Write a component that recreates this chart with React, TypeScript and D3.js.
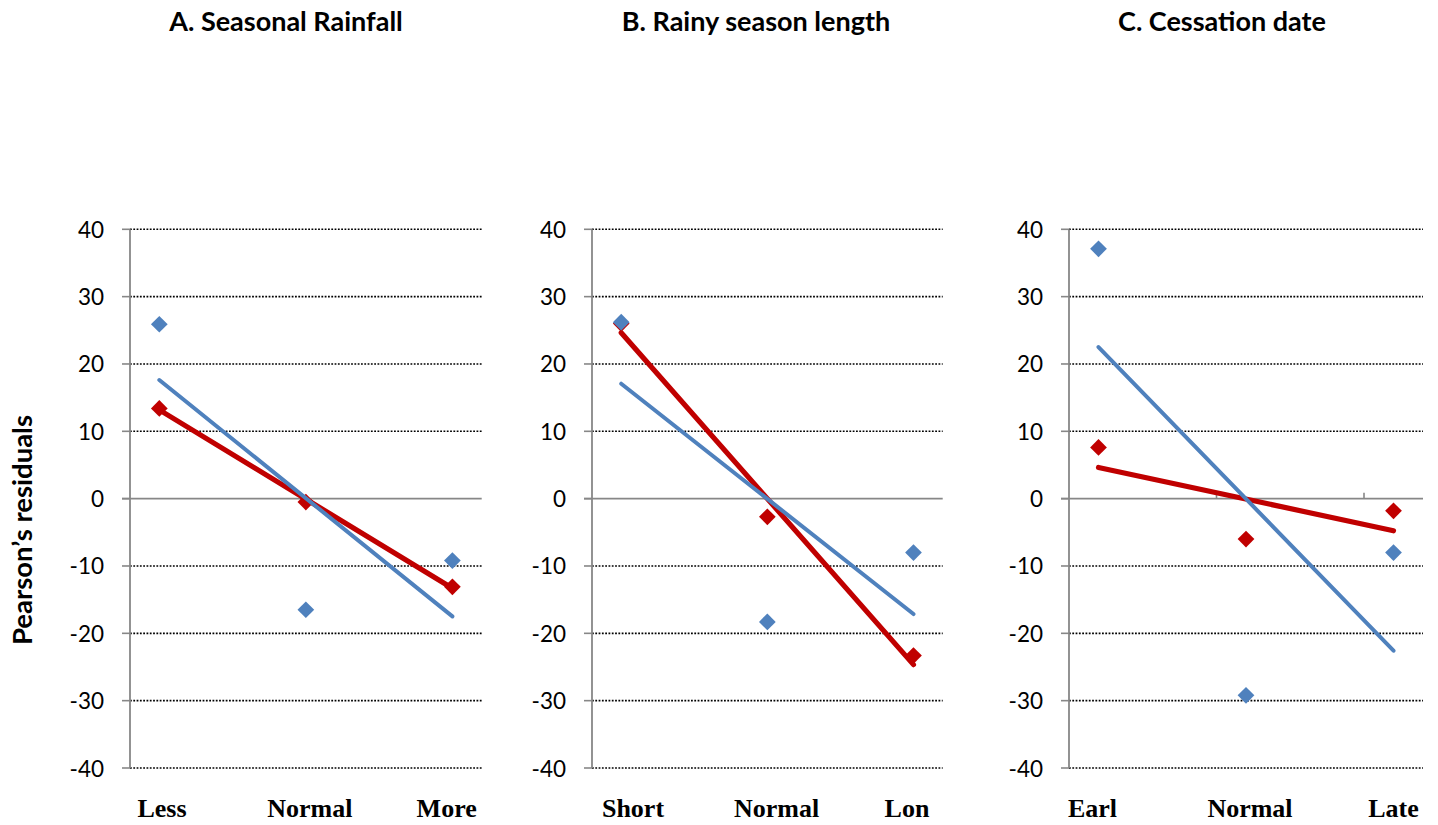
import React from "react";
import * as d3 from "d3";

// ---------- DATA ----------
const panelTitles = ["A. Seasonal Rainfall", "B. Rainy season length", "C. Cessation date"];
const categoriesA = ["Less", "Normal", "More"];
const categoriesB = ["Short", "Normal", "Lon"];
const categoriesC = ["Earl", "Normal", "Late"];
const categoryX = [1, 2, 3];
const blueA = [25.9, -16.5, -9.2];
const redA = [13.4, -0.5, -13.1];
const blueB = [26.2, -18.3, -8.0];
const redB = [26.0, -2.7, -23.3];
const blueC = [37.1, -29.2, -8.0];
const redC = [7.6, -6.0, -1.8];
const yTicks = [40, 30, 20, 10, 0, -10, -20, -30, -40];
const yTickLabels = ["40", "30", "20", "10", "0", "-10", "-20", "-30", "-40"];
const xTicksC = [1.8, 2.8];
const yAxisTitle = "Pearson\u2019s residuals";

// ---------- LAYOUT ----------
const W = 1438;
const H = 825;
const plotLeft = [130, 592, 1069];
const plotRight = [481.7, 942.7, 1423];
const titleCenter = [286, 756, 1222];
const labelDx = [
  [2.7, 4, -5.7],
  [11.8, 9.3, -6.5],
  [-6, 4, 0],
];
const BLUE = "#4F81BD";
const RED = "#C00000";
const AXIS = "#878787";
const SANS = "Lato, 'Open Sans', sans-serif";
const SERIF = "'Liberation Serif', 'Times New Roman', serif";

const yScale = d3.scaleLinear().domain([-40, 40]).range([768, 229.3]);

function fit(xs: number[], ys: number[]) {
  const mx = d3.mean(xs) as number;
  const my = d3.mean(ys) as number;
  let num = 0, den = 0;
  xs.forEach((x, i) => { num += (x - mx) * (ys[i] - my); den += (x - mx) ** 2; });
  const b = num / den;
  const a = my - b * mx;
  return (x: number) => a + b * x;
}

const diamond = d3.symbol().type(d3.symbolSquare).size(140)() as string;

function Panel({ idx, cats, blue, red }: { idx: number; cats: string[]; blue: number[]; red: number[] }) {
  const x0 = plotLeft[idx];
  const x1 = plotRight[idx];
  const xScale = d3.scaleLinear().domain([0.8, 3.2]).range([x0, x1]);
  const line = d3.line<[number, number]>().x((d) => xScale(d[0])).y((d) => yScale(d[1]));
  const fb = fit(categoryX, blue);
  const fr = fit(categoryX, red);
  const ends = [categoryX[0], categoryX[categoryX.length - 1]];
  const blueLine = line(ends.map((x) => [x, fb(x)] as [number, number])) as string;
  const redLine = line(ends.map((x) => [x, fr(x)] as [number, number])) as string;
  const y0 = yScale(0);
  return (
    <g>
      <text x={titleCenter[idx]} y={31} textAnchor="middle" fontFamily={SANS} fontWeight="bold" fontSize={27} fill="#000">
        {panelTitles[idx]}
      </text>
      {yTicks.map((t, i) => (
        <g key={t}>
          {t !== 0 && (
            <line x1={x0} x2={x1} y1={yScale(t)} y2={yScale(t)} stroke="#000" strokeWidth={1.6} strokeDasharray="1.8,1.5" />
          )}
          <line x1={x0 - 8} x2={x0} y1={yScale(t)} y2={yScale(t)} stroke={AXIS} strokeWidth={1.6} />
          <text x={x0 - 26} y={yScale(t)} textAnchor="end" dominantBaseline="central" fontFamily={SANS} fontSize={22.5} fill="#000">
            {yTickLabels[i]}
          </text>
        </g>
      ))}
      <line x1={x0} x2={x0} y1={yScale(40)} y2={yScale(-40)} stroke={AXIS} strokeWidth={1.8} />
      <line x1={x0 - 8} x2={x1} y1={y0} y2={y0} stroke={AXIS} strokeWidth={1.6} />
      {idx === 2 &&
        xTicksC.map((t) => (
          <line key={t} x1={xScale(t)} x2={xScale(t)} y1={y0} y2={y0 - 6} stroke={AXIS} strokeWidth={1.6} />
        ))}
      {red.map((v, i) => (
        <path key={"r" + i} d={diamond} transform={`translate(${xScale(categoryX[i])},${yScale(v)}) rotate(45)`} fill={RED} />
      ))}
      <path d={redLine} stroke={RED} strokeWidth={5.2} fill="none" strokeLinecap="round" />
      {blue.map((v, i) => (
        <path key={"b" + i} d={diamond} transform={`translate(${xScale(categoryX[i])},${yScale(v)}) rotate(45)`} fill={BLUE} />
      ))}
      <path d={blueLine} stroke={BLUE} strokeWidth={4} fill="none" strokeLinecap="round" />
      {cats.map((c, i) => (
        <text key={c + i} x={xScale(categoryX[i]) + labelDx[idx][i]} y={817} textAnchor="middle" fontFamily={SERIF} fontWeight="bold" fontSize={26} fill="#000">
          {c}
        </text>
      ))}
    </g>
  );
}

export default function App() {
  return (
    <svg width={W} height={H} style={{ position: "absolute", left: 0, top: 0, background: "#fff" }}>
      <rect width={W} height={H} fill="#fff" />
      <text transform={`translate(21,530) rotate(-90)`} textAnchor="middle" dominantBaseline="central" fontFamily={SANS} fontWeight="bold" fontSize={27.5} fill="#000">
        {yAxisTitle}
      </text>
      <Panel idx={0} cats={categoriesA} blue={blueA} red={redA} />
      <Panel idx={1} cats={categoriesB} blue={blueB} red={redB} />
      <Panel idx={2} cats={categoriesC} blue={blueC} red={redC} />
    </svg>
  );
}
